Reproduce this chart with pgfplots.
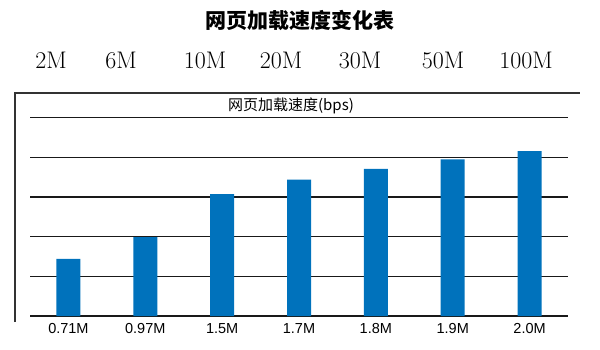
\documentclass[border=0pt]{standalone}
\usepackage{fontspec}
\usepackage{pgfplots}
\pgfplotsset{compat=1.18}
\newfontfamily\cjk{Noto Sans CJK SC}
\setsansfont{Liberation Sans}
\definecolor{barblue}{RGB}{0,114,188}
\begin{document}
\begin{tikzpicture}[x=1pt,y=1pt]
\useasboundingbox (0,0) rectangle (600,349);
\draw[line width=1.4pt, black!80] (15,27) -- (15,256) -- (580,256);
\node[font=\cjk\bfseries\fontsize{21}{24}\selectfont] at (300,329) {网页加载速度变化表};
\foreach \x/\t in {51/2M,121/6M,205/10M,281/20M,360/30M,443/50M,526/100M}
  \node[anchor=base, inner sep=0pt, font=\fontsize{24}{28}\selectfont] at (\x,280) {\t};
\node[font=\cjk\fontsize{15}{17}\selectfont] at (291,243.5) {网页加载速度(bps)};
\begin{axis}[
  at={(30pt,33pt)}, anchor=south west,
  scale only axis, width=538pt, height=198.3pt,
  xmin=-0.5, xmax=6.5, ymin=0, ymax=5,
  axis line style={draw=none},
  ytick={0,1,2,3,4,5}, yticklabels={},
  ymajorgrids, grid style={black!90, line width=1.5pt},
  xtick={0,1,2,3,4,5,6},
  xticklabels={0.71M,0.97M,1.5M,1.7M,1.8M,1.9M,2.0M},
  major tick length=0pt,
  xticklabel style={font=\sffamily\fontsize{14.5}{17}\selectfont, yshift=-4pt},
  ybar, bar width=24pt,
]
\addplot[fill=barblue, draw=none] coordinates {(0,1.44) (1,1.99) (2,3.07) (3,3.44) (4,3.71) (5,3.95) (6,4.16)};
\end{axis}
\end{tikzpicture}
\end{document}
